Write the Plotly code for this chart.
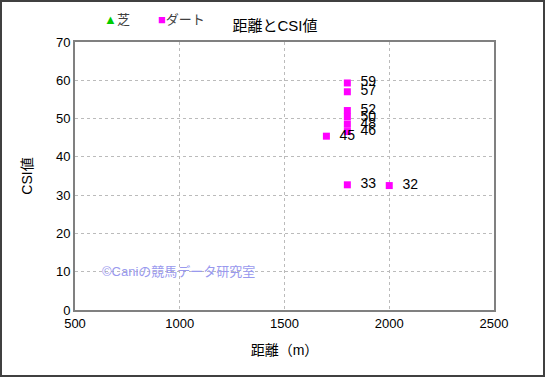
import plotly.graph_objects as go

# data
dirt_distance = [1800, 1800, 1800, 1800, 1800, 1800, 1700, 1800, 2000]
dirt_csi = [59.3, 57.0, 52.1, 50.4, 48.5, 46.6, 45.4, 32.7, 32.5]
dirt_labels = ["59", "57", "52", "50", "48", "46", "45", "33", "32"]
turf_distance = []
turf_csi = []
series_names = ["芝", "ダート"]
series_colors = ["#00cc00", "#ff00ff"]
series_symbols = ["▲", "■"]

x_ticks = [500, 1000, 1500, 2000, 2500]
y_ticks = [0, 10, 20, 30, 40, 50, 60, 70]

W, H = 545, 377
ML, MR, MT, MB = 75, 51, 42, 67
PW, PH = W - ML - MR, H - MT - MB

font = "Liberation Sans, Noto Sans CJK JP, Arial, sans-serif"

fig = go.Figure()
fig.add_trace(go.Scatter(
    x=turf_distance if turf_distance else [None], y=turf_csi if turf_csi else [None],
    mode="markers", name=series_names[0], showlegend=False,
    marker=dict(symbol="triangle-up", color=series_colors[0], size=9),
))
fig.add_trace(go.Scatter(
    x=dirt_distance, y=dirt_csi, mode="markers+text", name=series_names[1], showlegend=False,
    text=["  " + t for t in dirt_labels], textposition="middle right",
    textfont=dict(size=14, color="#000000", family=font),
    marker=dict(symbol="square", color=series_colors[1], size=7),
    cliponaxis=False,
))

grid = dict(showgrid=True, gridcolor="#bbbbbb", griddash="dot", gridwidth=1,
            showline=True, linecolor="#808080", linewidth=2, mirror=True,
            zeroline=False, ticks="", tickfont=dict(size=13, color="#000000", family=font))

# legend drawn as text entries
legend_x = [102, 156]
annotations = []
for name, col, sym, lx in zip(series_names, series_colors, series_symbols, legend_x):
    annotations.append(dict(
        text=f"<span style='color:{col}'>{sym}</span>{name}",
        xref="paper", yref="paper", x=(lx - ML) / PW, y=(H - MB - 19) / PH,
        xanchor="left", yanchor="middle", showarrow=False,
        font=dict(size=13, color="#404040", family=font)))
annotations.append(dict(text="©Caniの競馬データ研究室", xref="x", yref="y",
                        x=620, y=10, xanchor="left", yanchor="middle", showarrow=False,
                        font=dict(size=13, color="#9999ee", family=font)))

fig.update_layout(
    width=W, height=H,
    margin=dict(l=ML, r=MR, t=MT, b=MB, autoexpand=False),
    paper_bgcolor="white", plot_bgcolor="white",
    font=dict(family=font, size=12, color="#000000"),
    title=dict(text="距離とCSI値", x=(275 - ML) / PW, xref="paper", xanchor="center",
               y=1 - 26 / H, yanchor="middle", font=dict(size=15, color="#000000")),
    xaxis=dict(range=[500, 2500], tickvals=x_ticks, title=dict(text="距離（m）", standoff=16,
               font=dict(size=14)), **grid),
    yaxis=dict(range=[0, 70], tickvals=y_ticks, title=dict(text="CSI値", standoff=20,
               font=dict(size=14)), **grid),
    showlegend=False,
    shapes=[dict(type="rect", xref="paper", yref="paper",
                 x0=(1 - ML) / PW, x1=(544 - ML) / PW,
                 y0=(H - MB - 376) / PH, y1=(H - MB - 1) / PH,
                 line=dict(color="#404040", width=2), fillcolor="rgba(0,0,0,0)")],
    annotations=annotations,
)

fig.write_html("out.html", config={"displayModeBar": False},
               post_script="document.body.style.margin='0';document.body.style.overflow='hidden';")
